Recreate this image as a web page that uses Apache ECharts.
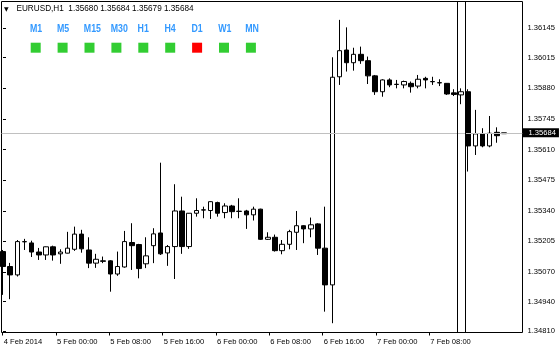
<!DOCTYPE html>
<html><head><meta charset="utf-8">
<script src="https://cdn.jsdelivr.net/npm/echarts@6/dist/echarts.min.js"></script>
<style>html,body{margin:0;padding:0;background:#fff}#c{width:560px;height:349px}</style>
</head><body><div id="c"></div>
<script>
const symbolName = 'EURUSD,H1';
const opens  = [1.35160,1.35094,1.35057,1.35203,1.35198,1.35158,1.35145,1.35181,1.35150,1.35153,
                1.35170,1.35237,1.35167,1.35109,1.35119,1.35119,1.35061,1.35092,1.35200,1.35191,
                1.35106,1.35186,1.35242,1.35154,1.35182,1.35339,1.35182,1.35329,1.35344,1.35341,
                1.35376,1.35332,1.35361,1.35338,1.35339,1.35322,1.35347,1.35214,1.35223,1.35164,
                1.35192,1.35245,1.35274,1.35260,1.35282,1.35175,1.35013,1.35931,1.36049,1.35993,
                1.36030,1.36002,1.35935,1.35865,1.35917,1.35898,1.35895,1.35902,1.35890,1.35924,
                1.35910,1.35905,1.35902,1.35860,1.35851,1.35865,1.35626,1.35679,1.35626,1.35686,
                1.35680];
const highs  = [1.35167,1.35110,1.35211,1.35216,1.35208,1.35176,1.35182,1.35186,1.35170,1.35247,
                1.35270,1.35256,1.35223,1.35150,1.35138,1.35122,1.35160,1.35251,1.35285,1.35194,
                1.35223,1.35263,1.35552,1.35189,1.35457,1.35402,1.35330,1.35395,1.35358,1.35382,
                1.35380,1.35373,1.35366,1.35395,1.35344,1.35358,1.35349,1.35245,1.35235,1.35211,
                1.35256,1.35339,1.35276,1.35310,1.35285,1.35358,1.36017,1.36182,1.36149,1.36059,
                1.36064,1.36020,1.35939,1.35920,1.35924,1.35917,1.35914,1.35910,1.35939,1.35931,
                1.35931,1.35920,1.35903,1.35876,1.35880,1.35876,1.35785,1.35704,1.35758,1.35708,
                1.35684];
const lows   = [1.34969,1.34950,1.35050,1.35167,1.35136,1.35123,1.35123,1.35120,1.35106,1.35152,
                1.35163,1.35155,1.35087,1.35088,1.35109,1.34983,1.35053,1.35089,1.35079,1.35042,
                1.35087,1.35109,1.35145,1.35097,1.35039,1.35150,1.35172,1.35314,1.35307,1.35304,
                1.35314,1.35307,1.35307,1.35307,1.35260,1.35297,1.35211,1.35211,1.35160,1.35148,
                1.35170,1.35167,1.35197,1.35223,1.35145,1.34895,1.34844,1.35895,1.35954,1.35958,
                1.35988,1.35899,1.35851,1.35843,1.35885,1.35880,1.35880,1.35861,1.35880,1.35880,
                1.35895,1.35890,1.35851,1.35846,1.35810,1.35513,1.35586,1.35620,1.35620,1.35640,
                1.35679];
const closes = [1.35094,1.35057,1.35204,1.35204,1.35158,1.35145,1.35181,1.35145,1.35158,1.35175,
                1.35237,1.35172,1.35109,1.35126,1.35117,1.35061,1.35094,1.35204,1.35186,1.35085,
                1.35141,1.35238,1.35150,1.35182,1.35339,1.35182,1.35329,1.35341,1.35343,1.35380,
                1.35329,1.35361,1.35336,1.35337,1.35322,1.35347,1.35214,1.35223,1.35164,1.35192,
                1.35248,1.35274,1.35260,1.35278,1.35175,1.35013,1.35929,1.36046,1.35993,1.36030,
                1.36002,1.35935,1.35865,1.35917,1.35895,1.35897,1.35910,1.35887,1.35920,1.35917,
                1.35909,1.35904,1.35855,1.35853,1.35865,1.35626,1.35679,1.35626,1.35682,1.35671,
                1.35684];
const priceTicks = [1.34810,1.34940,1.35070,1.35205,1.35340,1.35475,1.35610,1.35745,1.35880,1.36015,1.36145];
const timeLabels = ['4 Feb 2014','5 Feb 00:00','5 Feb 08:00','5 Feb 16:00','6 Feb 00:00','6 Feb 08:00','6 Feb 16:00','7 Feb 00:00','7 Feb 08:00'];
const timeTickPos = [-0.04,7.41,14.86,22.31,29.76,37.21,44.66,52.11,59.56];
const separatorPos = [63.4,64.6];
const timeframes = ['M1','M5','M15','M30','H1','H4','D1','W1','MN'];
const tfSignal = ['up','up','up','up','up','up','down','up','up'];

const FONT = '"Liberation Sans", Arial, sans-serif';
const n = opens.length;
const last = n - 1;
const candleData = opens.map((o, i) => [i, o, closes[i], lows[i], highs[i]]);

const graphics = [];
graphics.push({type:'text', x:4, y:9, silent:true,
  style:{text:'▼', font:'6px "DejaVu Sans"', fill:'#000', verticalAlign:'middle'}});
graphics.push({type:'text', x:16.5, y:9, silent:true,
  style:{text: symbolName + '  ' + [opens[last], highs[last], lows[last], closes[last]].map(v => v.toFixed(5)).join(' '),
         font:'8.2px ' + FONT, fill:'#000', verticalAlign:'middle'}});
timeframes.forEach((tf, i) => {
  graphics.push({type:'text', x:30 + 26.9 * i, y:29, scaleX:0.8, silent:true,
    style:{text:tf, font:'bold 11px ' + FONT, fill:'#3399ff', verticalAlign:'middle'}});
  graphics.push({type:'rect', silent:true,
    shape:{x:30.7 + 26.9 * i, y:42.7, width:10, height:10},
    style:{fill: tfSignal[i] === 'up' ? '#32cd32' : '#ff0000'}});
});

function nearestLabel(v) {
  let best = 0, bd = Infinity;
  timeTickPos.forEach((p, i) => { const d = Math.abs(p - v); if (d < bd) { bd = d; best = i; } });
  return timeLabels[best];
}

const chart = echarts.init(document.getElementById('c'));
chart.setOption({
  animation: false,
  backgroundColor: '#fff',
  grid: {left:1.5, right:37.5, top:1.5, bottom:16.5, show:true, borderColor:'#000', borderWidth:1,
         backgroundColor:'transparent', containLabel:false, outerBoundsMode:'none'},
  xAxis: {
    type:'value', min:-0.21, max:72.58,
    axisLine:{show:false}, splitLine:{show:false},
    axisTick:{show:true, length:3, customValues: timeTickPos, lineStyle:{color:'#000'}},
    axisLabel:{customValues: timeTickPos, formatter: v => nearestLabel(v), align:'left', margin:5,
               fontSize:7.6, fontFamily:FONT, color:'#000', padding:[0,0,0,1]}
  },
  yAxis: {
    type:'value', position:'right', min:1.34803, max:1.36263,
    axisLine:{show:false}, splitLine:{show:false},
    axisTick:{show:true, length:3, customValues: priceTicks, lineStyle:{color:'#000'}},
    axisLabel:{customValues: priceTicks, formatter: v => v.toFixed(5), margin:5,
               fontSize:7.6, fontFamily:FONT, color:'#000'}
  },
  series: [
    {
      type:'line', z:1, data:[[last, closes[last]]], symbol:'none', showSymbol:false, silent:true,
      lineStyle:{opacity:0},
      markLine:{
        silent:true, symbol:'none', animation:false, precision:5,
        data:[
          {yAxis: closes[last], lineStyle:{color:'#c0c0c0', width:1, type:'solid'},
           label:{show:true, position:'end', formatter: closes[last].toFixed(5), backgroundColor:'#000', color:'#fff',
                  padding:[1,3,0,6], distance:0, fontSize:7.6, fontFamily:FONT}},
          {xAxis: separatorPos[0], lineStyle:{color:'#000', width:1, type:'solid'}, label:{show:false}},
          {xAxis: separatorPos[1], lineStyle:{color:'#000', width:1, type:'solid'}, label:{show:false}}
        ]
      }
    },
    {
      type:'candlestick', z:3, data:candleData, barWidth:5, clip:true,
      itemStyle:{color:'#fff', color0:'#000', borderColor:'#000', borderColor0:'#000', borderColorDoji:'#000', borderWidth:1}
    }
  ],
  graphic: graphics
});
</script>
</body></html>
